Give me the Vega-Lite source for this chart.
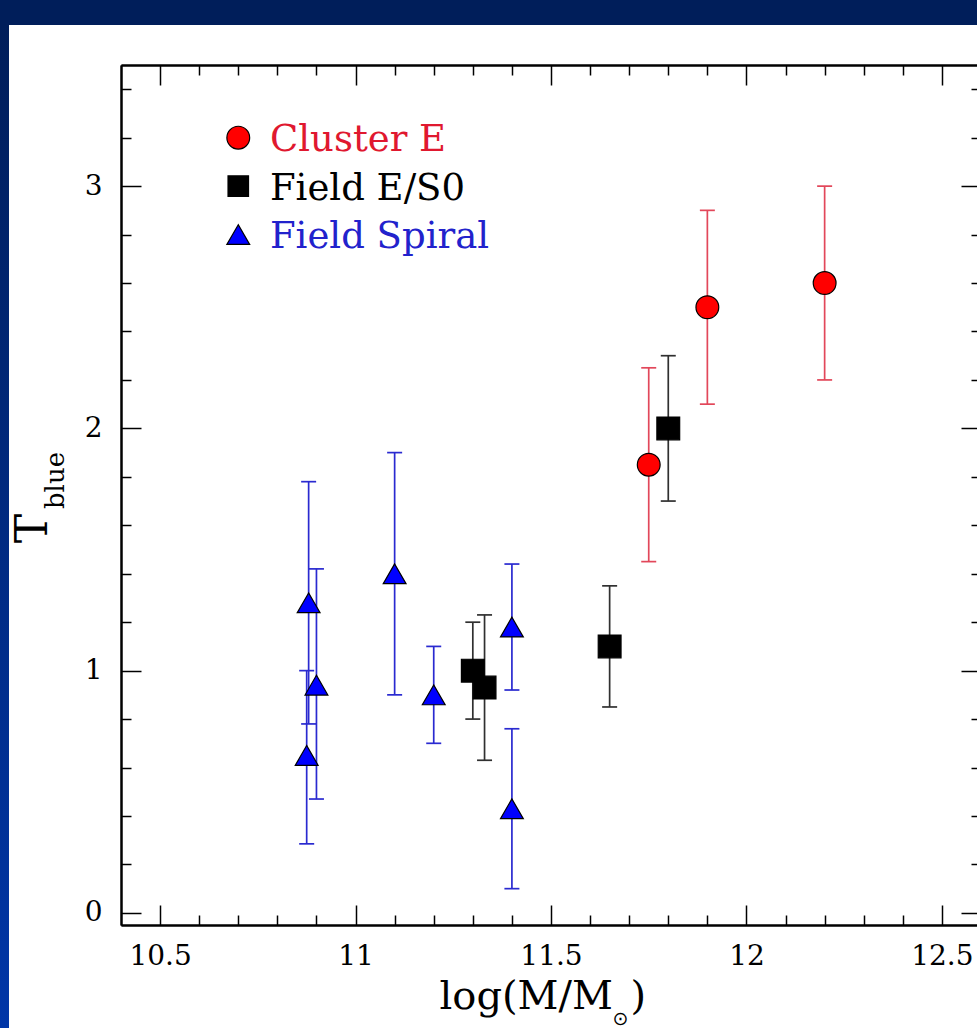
{
  "$schema": "https://vega.github.io/schema/vega-lite/v6.json",
  "width": 860,
  "height": 860,
  "autosize": {"type": "none"},
  "padding": {"left": 121, "top": 65, "right": 0, "bottom": 103},
  "background": "#ffffff",
  "data": {
    "values": [
      {"group": "Cluster E", "m": 11.75, "t": 1.85, "lo": 1.45, "hi": 2.25},
      {"group": "Cluster E", "m": 11.9, "t": 2.5, "lo": 2.1, "hi": 2.9},
      {"group": "Cluster E", "m": 12.2, "t": 2.6, "lo": 2.2, "hi": 3.0},
      {"group": "Field E/S0", "m": 11.3, "t": 1.0, "lo": 0.8, "hi": 1.2},
      {"group": "Field E/S0", "m": 11.33, "t": 0.93, "lo": 0.63, "hi": 1.23},
      {"group": "Field E/S0", "m": 11.65, "t": 1.1, "lo": 0.85, "hi": 1.35},
      {"group": "Field E/S0", "m": 11.8, "t": 2.0, "lo": 1.7, "hi": 2.3},
      {"group": "Field Spiral", "m": 10.88, "t": 1.28, "lo": 0.78, "hi": 1.78},
      {"group": "Field Spiral", "m": 10.875, "t": 0.65, "lo": 0.285, "hi": 1.0},
      {"group": "Field Spiral", "m": 10.9, "t": 0.94, "lo": 0.47, "hi": 1.42},
      {"group": "Field Spiral", "m": 11.1, "t": 1.4, "lo": 0.9, "hi": 1.9},
      {"group": "Field Spiral", "m": 11.2, "t": 0.9, "lo": 0.7, "hi": 1.1},
      {"group": "Field Spiral", "m": 11.4, "t": 1.18, "lo": 0.92, "hi": 1.44},
      {"group": "Field Spiral", "m": 11.4, "t": 0.43, "lo": 0.1, "hi": 0.76}
    ]
  },
  "config": {
    "view": {"stroke": null},
    "axis": {
      "grid": false,
      "domainColor": "#000000",
      "domainWidth": 2,
      "tickColor": "#000000",
      "tickWidth": 1.5,
      "labelFont": "DejaVu Serif",
      "labelFontSize": 28,
      "labelColor": "#000000",
      "titleFont": "DejaVu Serif",
      "titleFontWeight": "normal",
      "titleColor": "#000000",
      "labelOverlap": false,
      "labelFlush": false,
      "labelBound": false
    }
  },
  "resolve": {"axis": {"x": "independent", "y": "independent"}},
  "layer": [
    {
      "data": {"values": [{}]},
      "mark": {"type": "rect", "clip": false, "fill": "#001e5a"},
      "encoding": {
        "x": {"datum": 9.9, "type": "quantitative", "scale": {"domain": [10.4, 12.6], "nice": false, "zero": false}, "axis": null},
        "x2": {"datum": 13.2},
        "y": {"datum": 4.2, "type": "quantitative", "scale": {"domain": [-0.05, 3.5], "nice": false, "zero": false}, "axis": null},
        "y2": {"datum": 3.665}
      }
    },
    {
      "data": {"values": [{}]},
      "mark": {
        "type": "rect",
        "clip": false,
        "fill": {
          "gradient": "linear", "x1": 0, "y1": 0, "x2": 0, "y2": 1,
          "stops": [{"offset": 0, "color": "#001e5a"}, {"offset": 1, "color": "#0036a8"}]
        }
      },
      "encoding": {
        "x": {"datum": 9.9, "type": "quantitative", "scale": {"domain": [10.4, 12.6], "nice": false, "zero": false},
          "axis": {"zindex": 1, "orient": "top", "values": [10.6,10.7,10.8,10.9,11.1,11.2,11.3,11.4,11.6,11.7,11.8,11.9,12.1,12.2,12.3,12.4], "tickSize": -10, "labels": false, "title": null}},
        "x2": {"datum": 10.1135},
        "y": {"datum": 3.665, "type": "quantitative", "scale": {"domain": [-0.05, 3.5], "nice": false, "zero": false},
          "axis": {"zindex": 1, "orient": "right", "values": [0.2,0.4,0.6,0.8,1.2,1.4,1.6,1.8,2.2,2.4,2.6,2.8,3.2,3.4], "tickSize": -10, "labels": false, "title": null}},
        "y2": {"datum": -0.5}
      }
    },
    {
      "mark": {"type": "rule", "strokeWidth": 1.7},
      "encoding": {
        "x": {"field": "m", "type": "quantitative", "scale": {"domain": [10.4, 12.6], "nice": false, "zero": false},
          "axis": {"zindex": 1, "orient": "bottom", "values": [10.5, 11, 11.5, 12, 12.5], "format": "~g", "tickSize": -20, "labelPadding": 37,
            "title": "log(M/M", "titleFontSize": 40, "titleBaseline": "alphabetic", "titleAlign": "left", "titleX": 318, "titleY": 83}},
        "y": {"field": "lo", "type": "quantitative", "scale": {"domain": [-0.05, 3.5], "nice": false, "zero": false},
          "axis": {"zindex": 1, "orient": "left", "values": [0, 1, 2, 3], "format": "~g", "tickSize": -20, "labelPadding": 39,
            "title": "T", "titleFontSize": 44, "titleAngle": 270, "titleBaseline": "alphabetic", "titleAlign": "center", "titleX": -75, "titleY": 463}},
        "y2": {"field": "hi"},
        "stroke": {"field": "group", "type": "nominal", "legend": null,
          "scale": {"domain": ["Cluster E", "Field E/S0", "Field Spiral"], "range": ["#e2475a", "#303030", "#2a2ad0"]}}
      }
    },
    {
      "transform": [{"fold": ["lo", "hi"], "as": ["end", "tval"]}],
      "mark": {"type": "tick", "orient": "horizontal", "size": 15, "thickness": 1.7, "opacity": 1},
      "encoding": {
        "x": {"field": "m", "type": "quantitative", "scale": {"domain": [10.4, 12.6], "nice": false, "zero": false},
          "axis": {"zindex": 1, "orient": "bottom", "values": [10.6,10.7,10.8,10.9,11.1,11.2,11.3,11.4,11.6,11.7,11.8,11.9,12.1,12.2,12.3,12.4], "tickSize": -10, "labels": false,
            "title": "⊙", "titleFont": "DejaVu Sans", "titleFontSize": 19, "titleBaseline": "alphabetic", "titleAlign": "center", "titleX": 499, "titleY": 99}},
        "y": {"field": "tval", "type": "quantitative", "scale": {"domain": [-0.05, 3.5], "nice": false, "zero": false},
          "axis": {"zindex": 1, "orient": "left", "values": [0.2,0.4,0.6,0.8,1.2,1.4,1.6,1.8,2.2,2.4,2.6,2.8,3.2,3.4], "tickSize": -10, "labels": false,
            "title": "blue", "titleFontSize": 26, "titleAngle": 270, "titleBaseline": "alphabetic", "titleAlign": "center", "titleX": -58, "titleY": 415}},
        "fill": {"field": "group", "type": "nominal", "legend": null,
          "scale": {"domain": ["Cluster E", "Field E/S0", "Field Spiral"], "range": ["#e2475a", "#303030", "#2a2ad0"]}}
      }
    },
    {
      "mark": {"type": "point", "filled": true, "stroke": "#000000", "strokeWidth": 1.2, "opacity": 1, "size": 520},
      "encoding": {
        "x": {"field": "m", "type": "quantitative", "scale": {"domain": [10.4, 12.6], "nice": false, "zero": false},
          "axis": {"zindex": 1, "orient": "top", "values": [10.5, 11, 11.5, 12, 12.5], "tickSize": -20, "labels": false,
            "title": ")", "titleFontSize": 40, "titleBaseline": "alphabetic", "titleAlign": "left", "titleX": 509, "titleY": 943}},
        "y": {"field": "t", "type": "quantitative", "scale": {"domain": [-0.05, 3.5], "nice": false, "zero": false},
          "axis": {"zindex": 1, "orient": "right", "values": [0, 1, 2, 3], "tickSize": -20, "labels": false, "title": null}},
        "color": {"field": "group", "type": "nominal", "legend": null,
          "scale": {"domain": ["Cluster E", "Field E/S0", "Field Spiral"], "range": ["#ff0000", "#000000", "#0000ff"]}},
        "shape": {"field": "group", "type": "nominal", "legend": null,
          "scale": {"domain": ["Cluster E", "Field E/S0", "Field Spiral"], "range": ["circle", "square", "triangle-up"]}}
      }
    },
    {
      "data": {"values": [{}]},
      "mark": {"type": "point", "shape": "circle", "filled": true, "fill": "#ff0000", "stroke": "#000000", "strokeWidth": 1.2, "opacity": 1, "size": 520},
      "encoding": {
        "x": {"datum": 10.7, "type": "quantitative", "axis": null},
        "y": {"datum": 3.2, "type": "quantitative", "axis": null}
      }
    },
    {
      "data": {"values": [{}]},
      "mark": {"type": "point", "shape": "square", "filled": true, "fill": "#000000", "stroke": "#000000", "strokeWidth": 1.2, "opacity": 1, "size": 420},
      "encoding": {
        "x": {"datum": 10.7, "type": "quantitative", "axis": null},
        "y": {"datum": 3.0, "type": "quantitative", "axis": null}
      }
    },
    {
      "data": {"values": [{}]},
      "mark": {"type": "point", "shape": "triangle-up", "filled": true, "fill": "#0000ff", "stroke": "#000000", "strokeWidth": 1.2, "opacity": 1, "size": 520},
      "encoding": {
        "x": {"datum": 10.7, "type": "quantitative", "axis": null},
        "y": {"datum": 2.8, "type": "quantitative", "axis": null}
      }
    },
    {
      "data": {"values": [{}]},
      "mark": {"type": "text", "font": "DejaVu Serif", "fontSize": 37, "align": "left", "baseline": "middle", "fill": "#e0182f"},
      "encoding": {
        "x": {"datum": 10.781, "type": "quantitative", "axis": null},
        "y": {"datum": 3.19, "type": "quantitative", "axis": null},
        "text": {"value": "Cluster E"}
      }
    },
    {
      "data": {"values": [{}]},
      "mark": {"type": "text", "font": "DejaVu Serif", "fontSize": 37, "align": "left", "baseline": "middle", "fill": "#000000"},
      "encoding": {
        "x": {"datum": 10.781, "type": "quantitative", "axis": null},
        "y": {"datum": 2.99, "type": "quantitative", "axis": null},
        "text": {"value": "Field E/S0"}
      }
    },
    {
      "data": {"values": [{}]},
      "mark": {"type": "text", "font": "DejaVu Serif", "fontSize": 37, "align": "left", "baseline": "middle", "fill": "#2222cc"},
      "encoding": {
        "x": {"datum": 10.781, "type": "quantitative", "axis": null},
        "y": {"datum": 2.79, "type": "quantitative", "axis": null},
        "text": {"value": "Field Spiral"}
      }
    }
  ]
}
